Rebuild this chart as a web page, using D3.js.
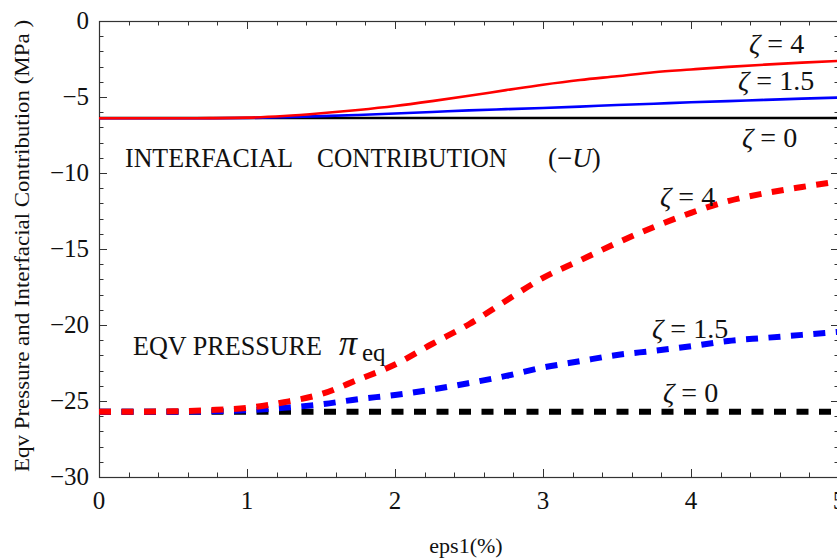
<!DOCTYPE html>
<html>
<head>
<meta charset="utf-8">
<script src="https://cdn.jsdelivr.net/npm/d3@7"></script>
<style>
  html, body { margin: 0; padding: 0; background: #fff; }
  svg { display: block; font-family: "Liberation Serif", "Times New Roman", serif; }
</style>
</head>
<body>
<svg id="chart" width="837" height="560"></svg>
<script>
// ---- data ----
const epsValues = [0, 0.25, 0.5, 0.75, 1, 1.25, 1.5, 1.75, 2, 2.25, 2.5, 2.75, 3, 3.25, 3.5, 3.75, 4, 4.25, 4.5, 4.75, 5];

// interfacial contribution (-U), solid lines
const interfacialZeta0  = [-6.38, -6.38, -6.38, -6.38, -6.38, -6.38, -6.38, -6.38, -6.38, -6.38, -6.38, -6.38, -6.38, -6.38, -6.38, -6.38, -6.38, -6.38, -6.38, -6.38, -6.38];
const interfacialZeta15 = [-6.4, -6.4, -6.4, -6.4, -6.38, -6.33, -6.26, -6.18, -6.09, -5.99, -5.88, -5.8, -5.72, -5.63, -5.53, -5.44, -5.35, -5.27, -5.19, -5.11, -5.04];
const interfacialZeta4  = [-6.4, -6.4, -6.4, -6.39, -6.36, -6.25, -6.07, -5.85, -5.59, -5.27, -4.92, -4.55, -4.19, -3.88, -3.63, -3.37, -3.19, -3.02, -2.87, -2.74, -2.63];

// equivalent pressure pi_eq, dashed lines
const pressureZeta0  = [-25.7, -25.7, -25.7, -25.7, -25.7, -25.7, -25.7, -25.7, -25.7, -25.7, -25.7, -25.7, -25.7, -25.7, -25.7, -25.7, -25.7, -25.7, -25.7, -25.7, -25.7];
const pressureZeta15 = [-25.7, -25.7, -25.7, -25.68, -25.6, -25.45, -25.22, -24.88, -24.6, -24.25, -23.82, -23.35, -22.8, -22.38, -21.97, -21.7, -21.4, -21.05, -20.85, -20.65, -20.45];
const pressureZeta4  = [-25.7, -25.7, -25.68, -25.6, -25.45, -25.08, -24.55, -23.6, -22.6, -21.25, -19.95, -18.4, -16.9, -15.75, -14.6, -13.55, -12.62, -11.85, -11.33, -10.92, -10.55];

const xTicks = [0, 1, 2, 3, 4, 5];
const yTicks = [0, -5, -10, -15, -20, -25, -30];

const xLabel = "eps1(%)";
const yLabel = "Eqv  Pressure  and  Interfacial  Contribution (MPa )";

// ---- layout ----
const svg = d3.select("#chart");
const pLeft = 99, pRight = 839, pTop = 21, pBottom = 477;

const x = d3.scaleLinear().domain([0, 5]).range([pLeft, pRight]);
const y = d3.scaleLinear().domain([-30, 0]).range([pBottom, pTop]);

const axisColor = "#333";
const g = svg.append("g");

// ticks (inward on all four sides)
const xMinor = d3.range(0, 5.0001, 0.2).map(v => +v.toFixed(2));
const yMinor = d3.range(-30, 0.0001, 1);

function isMajorX(v) { return Math.abs(v - Math.round(v)) < 1e-6; }
function isMajorY(v) { return Math.abs(v / 5 - Math.round(v / 5)) < 1e-6; }

const ticks = g.append("g").attr("stroke", axisColor).attr("stroke-width", 1);
xMinor.forEach(v => {
  const L = isMajorX(v) ? 8 : 4.5;
  const px = Math.round(x(v)) + 0.5;
  ticks.append("line").attr("x1", px).attr("x2", px).attr("y1", pBottom).attr("y2", pBottom - L);
  ticks.append("line").attr("x1", px).attr("x2", px).attr("y1", pTop).attr("y2", pTop + L);
});
yMinor.forEach(v => {
  const L = isMajorY(v) ? 8 : 4.5;
  const py = Math.round(y(v)) + 0.5;
  ticks.append("line").attr("x1", pLeft).attr("x2", pLeft + L).attr("y1", py).attr("y2", py);
  ticks.append("line").attr("x1", pRight).attr("x2", pRight - L).attr("y1", py).attr("y2", py);
});

// frame
g.append("rect")
  .attr("x", pLeft + 0.5).attr("y", pTop + 0.5)
  .attr("width", pRight - pLeft).attr("height", pBottom - pTop)
  .attr("fill", "none").attr("stroke", axisColor).attr("stroke-width", 1.2);

// tick labels
const fmt = v => (v < 0 ? "\u2212" + Math.abs(v) : String(v));
g.append("g").selectAll("text").data(xTicks).join("text")
  .attr("x", d => x(d)).attr("y", 509)
  .attr("text-anchor", "middle")
  .attr("font-size", 25)
  .attr("fill", "#111")
  .text(d => String(d));
g.append("g").selectAll("text").data(yTicks).join("text")
  .attr("x", 89).attr("y", d => y(d) + 8)
  .attr("text-anchor", "end")
  .attr("font-size", 25)
  .attr("fill", "#111")
  .text(fmt);

// axis titles
g.append("text")
  .attr("x", 466).attr("y", 553)
  .attr("text-anchor", "middle")
  .attr("font-size", 22)
  .attr("fill", "#111")
  .text(xLabel);

g.append("text")
  .attr("transform", "translate(29,246) rotate(-90)")
  .attr("text-anchor", "middle")
  .attr("font-size", 22)
  .attr("fill", "#111")
  .attr("textLength", 452)
  .attr("lengthAdjust", "spacingAndGlyphs")
  .text(yLabel);

// clip
svg.append("clipPath").attr("id", "plotclip")
  .append("rect").attr("x", pLeft).attr("y", pTop - 5).attr("width", pRight - pLeft + 5).attr("height", pBottom - pTop + 10);

const line = d3.line()
  .x((d, i) => x(epsValues[i]))
  .y(d => y(d))
  .curve(d3.curveMonotoneX);

const plot = svg.append("g").attr("clip-path", "url(#plotclip)");

const solidSeries = [
  { values: interfacialZeta0, color: "#000000" },
  { values: interfacialZeta15, color: "#0000ff" },
  { values: interfacialZeta4, color: "#ff0000" }
];
const dashedSeries = [
  { values: pressureZeta0, color: "#000000" },
  { values: pressureZeta15, color: "#0000ff" },
  { values: pressureZeta4, color: "#ff0000" }
];

solidSeries.forEach(s => {
  plot.append("path").attr("d", line(s.values))
    .attr("fill", "none").attr("stroke", s.color).attr("stroke-width", 2.6);
});
dashedSeries.forEach(s => {
  plot.append("path").attr("d", line(s.values))
    .attr("fill", "none").attr("stroke", s.color).attr("stroke-width", 6)
    .attr("stroke-dasharray", "12,10.5");
});

// annotations
function zetaLabel(px, py, val) {
  const t = svg.append("text").attr("x", px).attr("y", py).attr("font-size", 28).attr("fill", "#111");
  t.append("tspan").attr("font-style", "italic").text("\u03B6");
  t.append("tspan").text(" = " + val);
}
zetaLabel(749, 53, "4");
zetaLabel(738, 90, "1.5");
zetaLabel(742, 147, "0");
zetaLabel(660, 206, "4");
zetaLabel(652, 338, "1.5");
zetaLabel(663, 402, "0");

function stretchText(px, py, size, len, str) {
  return svg.append("text").attr("x", px).attr("y", py).attr("font-size", size).attr("fill", "#111")
    .attr("textLength", len).attr("lengthAdjust", "spacingAndGlyphs").text(str);
}
stretchText(125, 167, 28, 168, "INTERFACIAL");
stretchText(317, 167, 28, 190, "CONTRIBUTION");
const tu = svg.append("text").attr("x", 548).attr("y", 167).attr("font-size", 27).attr("fill", "#111");
tu.append("tspan").text("(\u2212");
tu.append("tspan").attr("font-style", "italic").text("U");
tu.append("tspan").text(")");

stretchText(133, 355, 28, 189, "EQV PRESSURE");
svg.append("text").attr("x", 339).attr("y", 355).attr("font-size", 36).attr("font-style", "italic").attr("fill", "#111").text("\u03C0");
svg.append("text").attr("x", 362).attr("y", 361).attr("font-size", 25).attr("fill", "#111").text("eq");
</script>
</body>
</html>
